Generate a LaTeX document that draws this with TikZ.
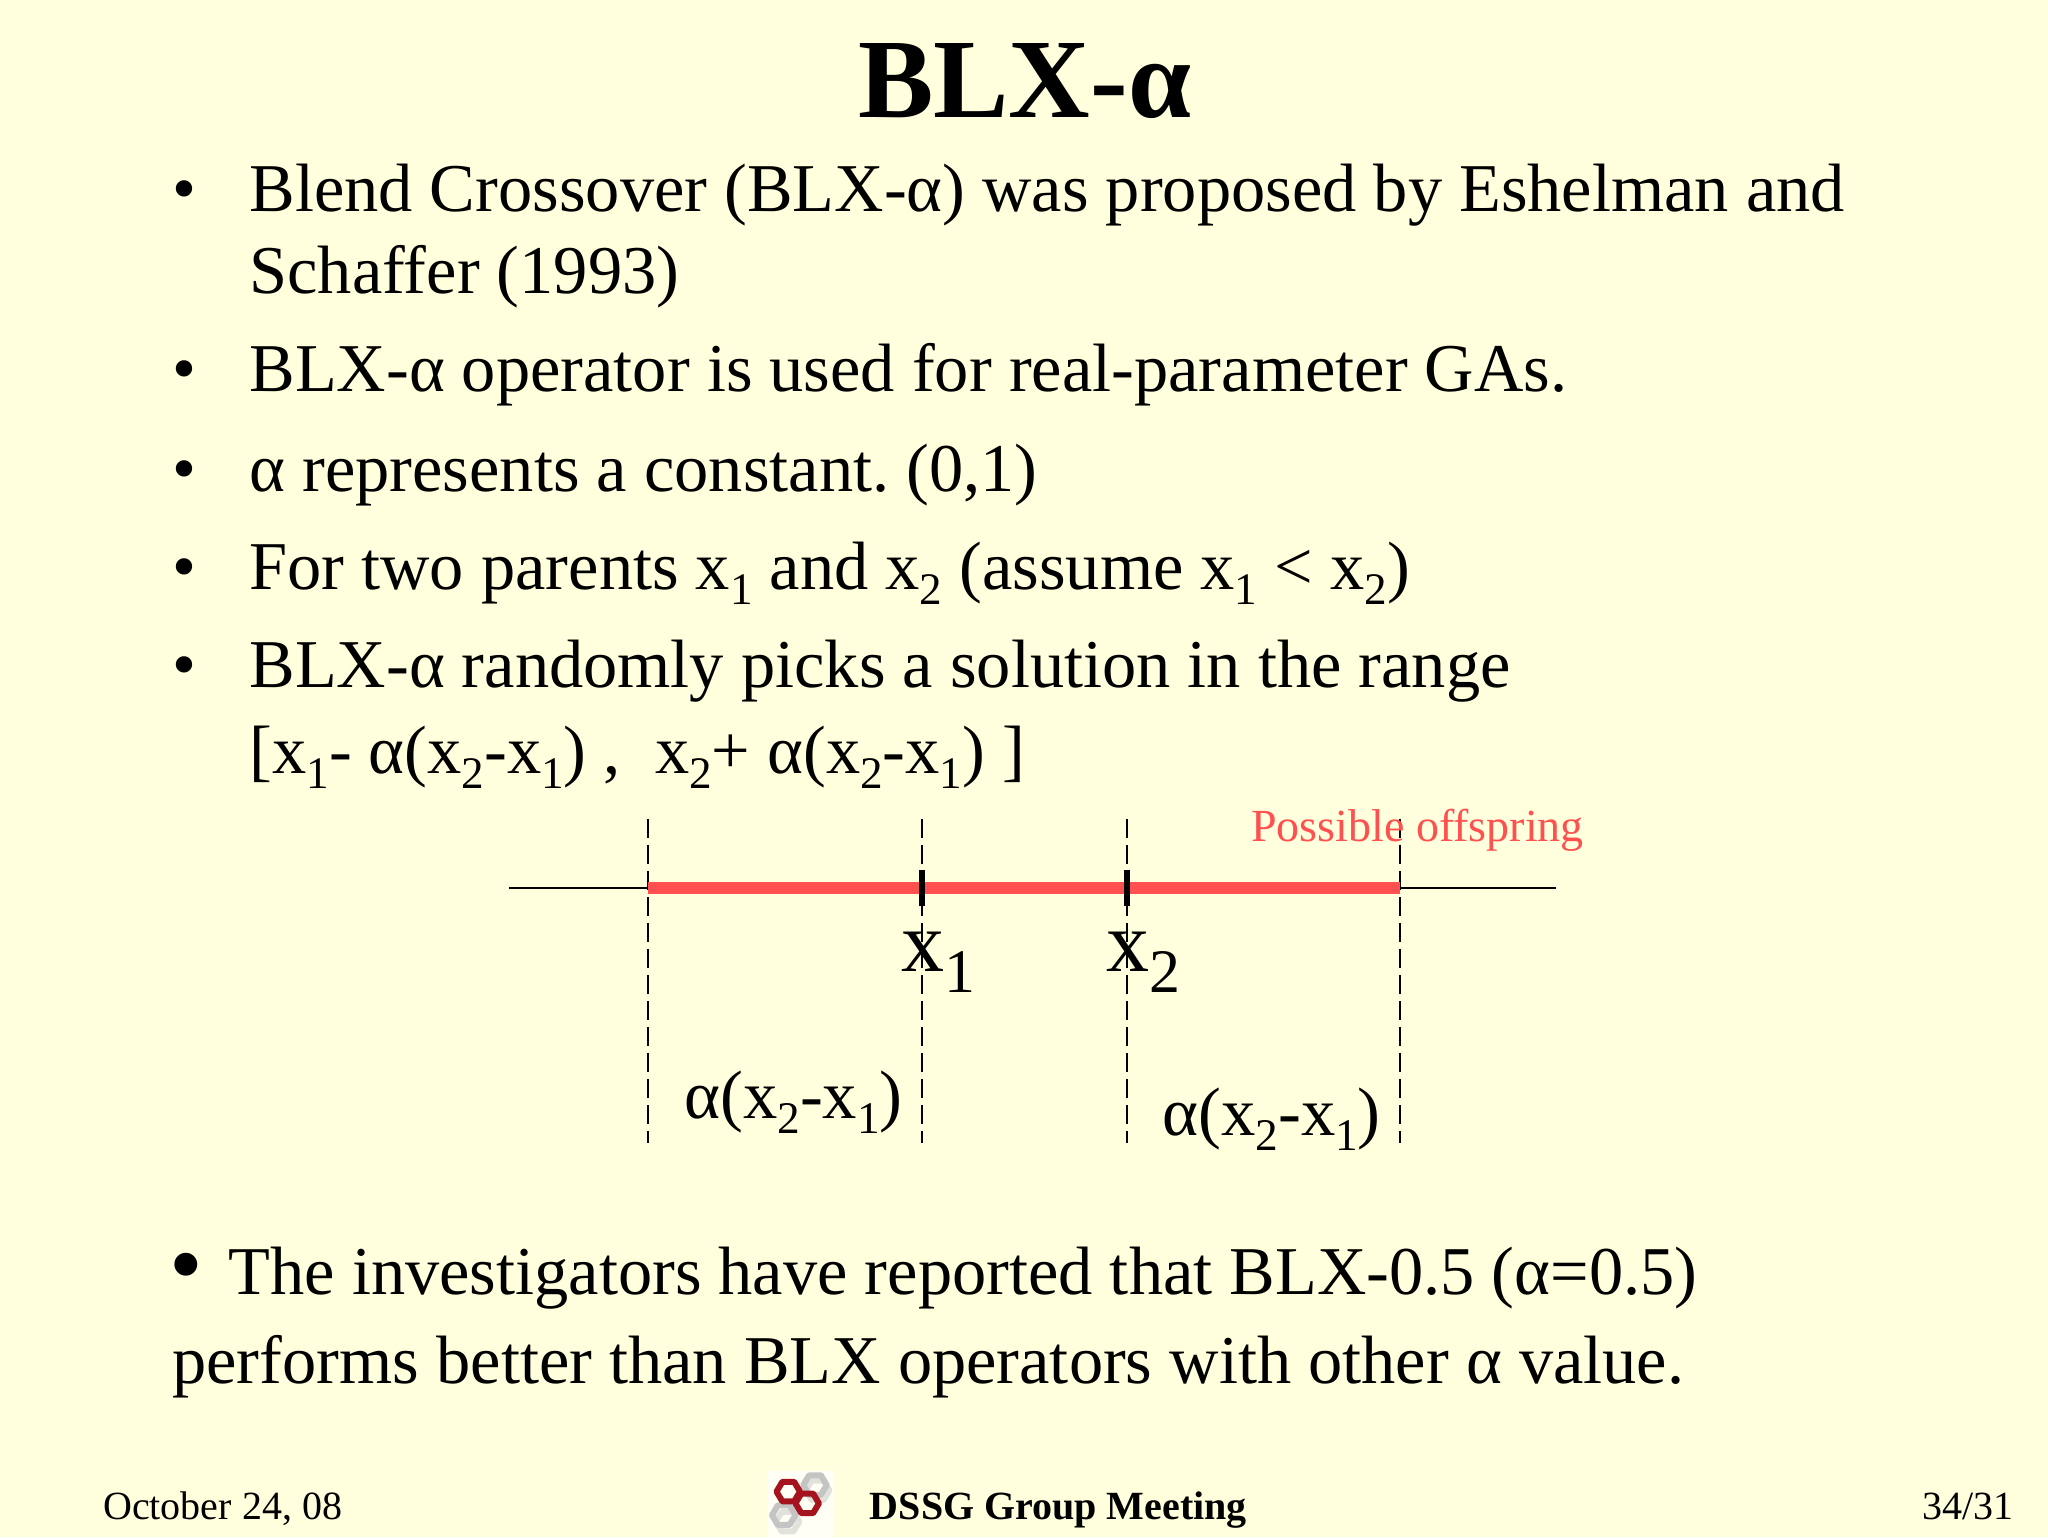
\documentclass[tikz,border=0pt]{standalone}
\usepackage{fontspec}
\usepackage{graphicx}
\setmainfont{Liberation Serif}
\frenchspacing
\definecolor{bgy}{HTML}{FFFFDD}
\definecolor{offred}{HTML}{FF5050}
\definecolor{logored}{HTML}{A5141E}
\definecolor{logogray}{HTML}{C4C4C4}
\definecolor{logoshadow}{HTML}{E2E2DC}
\newcommand\sbs[1]{\raisebox{-0.22em}{\scalebox{0.66}{#1}}}
\newcommand\sbl[1]{\raisebox{-0.24em}{\scalebox{0.72}{#1}}}
\newcommand\bodyfs{\fontsize{68.4}{68.4}\selectfont}
\newcommand\hexcell[3]{\draw[hexa,draw=#3] (#1-9,#2) -- ++(4.5,-7.5) -- ++(9,0) -- ++(4.5,7.5) -- ++(-4.5,7.5) -- ++(-9,0) -- cycle;}
\tikzset{
  x=1.3061pt,y=-1.3061pt,
  txt/.style={anchor=base west,inner sep=0pt,outer sep=0pt,text=black},
  bodyline/.style={txt,font=\bodyfs},
  lab/.style={txt,font=\fontsize{68.6}{68.6}\selectfont},
  xlab/.style={txt,font=\fontsize{86}{86}\selectfont},
  foot/.style={txt,font=\fontsize{40}{40}\selectfont},
  guide/.style={draw=black,line width=1.8pt,dash pattern=on 19pt off 7pt},
  axis/.style={draw=black,line width=2pt},
  band/.style={draw=offred,line width=11.7pt},
  tick/.style={draw=black,line width=5.5pt},
  hexa/.style={line width=6pt,line join=round},
}
\begin{document}
\begin{tikzpicture}
\useasboundingbox[fill=bgy] (0,0) rectangle (1568,1176.8);
% title
\node[txt,font=\bfseries\fontsize{113}{113}\selectfont] (title) at (657,90) {BLX-α};
% bullets
\node[bodyline] (b1) at (132,162) {•};
\node[bodyline] (l1) at (191,162) {Blend Crossover (BLX-α) was proposed by Eshelman and};
\node[bodyline] (l1b) at (191,225) {Schaffer (1993)};
\node[bodyline] (b2) at (132,300) {•};
\node[bodyline] (l2) at (191,300) {BLX-α operator is used for real-parameter GAs.};
\node[bodyline] (b3) at (132,376) {•};
\node[bodyline] (l3) at (191,376) {α represents a constant. (0,1)};
\node[bodyline] (b4) at (132,451) {•};
\node[bodyline] (l4) at (191,451) {For two parents x\sbs{1} and x\sbs{2} (assume x\sbs{1} < x\sbs{2})};
\node[bodyline] (b5) at (132,526) {•};
\node[bodyline] (l5) at (191,526) {BLX-α randomly picks a solution in the range};
\node[bodyline] (l5b) at (191,592) {[x\sbs{1}- α(x\sbs{2}-x\sbs{1}) ,\ \ x\sbs{2}+ α(x\sbs{2}-x\sbs{1}) ]};
% diagram
\coordinate (axL) at (390,680);
\coordinate (axR) at (1191,680);
\coordinate (a) at (496,680);
\coordinate (d) at (1072,680);
\coordinate (at) at (496,627);
\coordinate (ab) at (496,875);
\coordinate (bt) at (706,627);
\coordinate (bb) at (706,875);
\coordinate (ct) at (863,627);
\coordinate (cb) at (863,875);
\coordinate (dt) at (1072,627);
\coordinate (db) at (1072,875);
\coordinate (t1t) at (706,666);
\coordinate (t1b) at (706,694);
\coordinate (t2t) at (863,666);
\coordinate (t2b) at (863,694);
\draw[axis] (axL) -- (a);
\draw[axis] (d) -- (axR);
\draw[guide] (at) -- (ab);
\draw[guide] (bt) -- (bb);
\draw[guide] (ct) -- (cb);
\draw[guide] (dt) -- (db);
\draw[band] (a) -- (d);
\draw[tick] (t1t) -- (t1b);
\draw[tick] (t2t) -- (t2b);
\node[txt,text=offred,font=\fontsize{46}{46}\selectfont] (po) at (958,644) {Possible offspring};
\node[xlab] (x1) at (690,744) {x\sbl{1}};
\node[xlab] (x2) at (847,744) {x\sbl{2}};
\node[lab] (f1) at (524,856) {α(x\sbs{2}-x\sbs{1})};
\node[lab] (f2) at (890,869) {α(x\sbs{2}-x\sbs{1})};
% bottom text
\node[txt,font=\fontsize{96}{96}\selectfont] (b6) at (130,993) {•};
\node[bodyline] (l6) at (175,991) {The investigators have reported that BLX-0.5 (α=0.5)};
\node[bodyline] (l6b) at (132,1059) {performs better than BLX operators with other α value.};
% footer
\node[foot] (date) at (79,1163) {October 24, 08};
\node[foot,font=\bfseries\fontsize{40}{40}\selectfont] (group) at (666,1163.5) {DSSG Group Meeting};
\node[foot] (page) at (1472,1163) {34/31};
% logo
\fill[white!70!bgy] (587,1126) rectangle (638,1176.8);
\hexcell{626}{1141}{logoshadow}
\hexcell{603}{1165}{logoshadow}
\hexcell{624}{1137}{logogray}
\hexcell{600}{1160}{logogray}
\hexcell{603.5}{1142}{logored}
\hexcell{618}{1151}{logored}
\end{tikzpicture}
\end{document}
